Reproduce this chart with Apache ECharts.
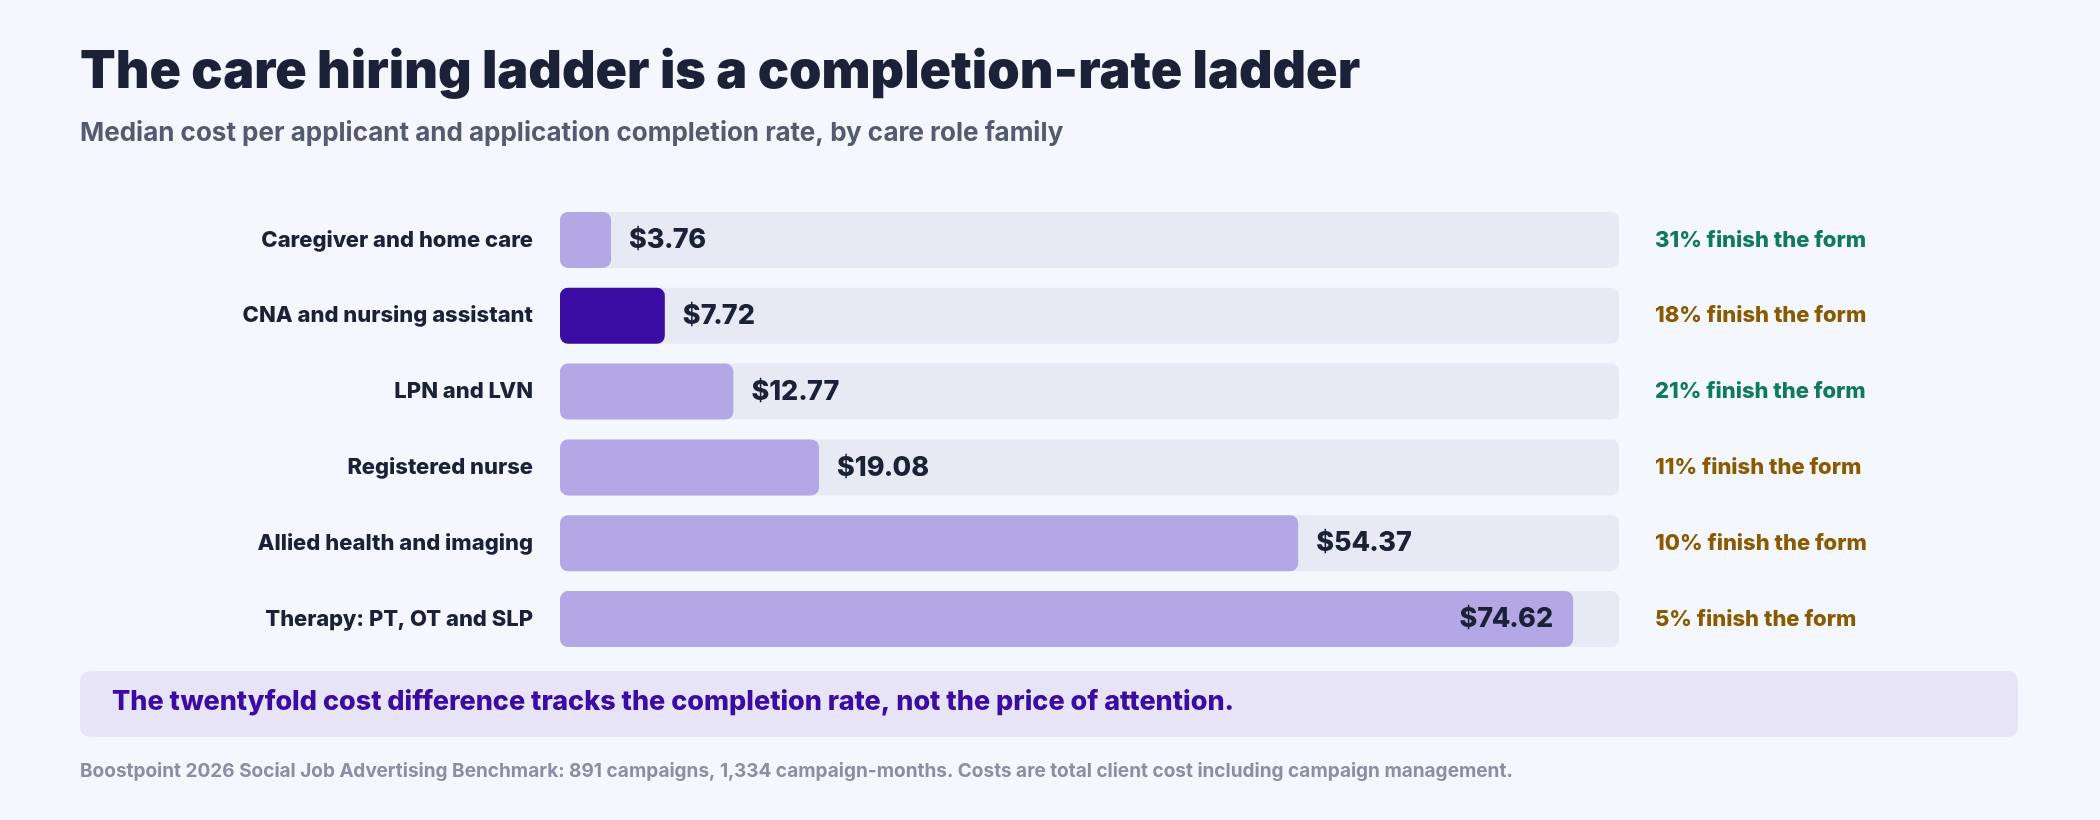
<!DOCTYPE html>
<html>
<head>
<meta charset="utf-8">
<script src="https://cdn.jsdelivr.net/npm/echarts@6/dist/echarts.min.js"></script>
<style>
  html, body { margin: 0; padding: 0; background: #f4f7fe; }
  #chart { width: 2100px; height: 820px; }
</style>
</head>
<body>
<div id="chart"></div>
<script>
// care role families, top to bottom
const roles = ['Caregiver and home care', 'CNA and nursing assistant', 'LPN and LVN',
  'Registered nurse', 'Allied health and imaging', 'Therapy: PT, OT and SLP'];
const costs = [3.76, 7.72, 12.77, 19.08, 54.37, 74.62];
const completion = [31, 18, 21, 11, 10, 5];
const goodRate = [true, false, true, false, false, false];
const highlight = 1;
const axisMax = 78;

const font = 'Inter, "Noto Sans", sans-serif';
const chart = echarts.init(document.getElementById('chart'));

chart.setOption({
  backgroundColor: '#f4f7fe',
  animation: false,
  graphic: [
    { type: 'text', left: 80, top: 46,
      style: { text: 'The care hiring ladder is a completion-rate ladder', font: '900 52px ' + font, fill: '#1b2238' } },
    { type: 'text', left: 80, top: 120,
      style: { text: 'Median cost per applicant and application completion rate, by care role family', font: '700 26px ' + font, fill: '#545a70' } },
    { type: 'rect', left: 80, top: 671, shape: { width: 1938, height: 66, r: 10 }, style: { fill: '#e6e4f6' } },
    { type: 'text', left: 112, top: 688,
      style: { text: 'The twentyfold cost difference tracks the completion rate, not the price of attention.', font: '800 27px ' + font, fill: '#3a0ca3' } },
    { type: 'text', left: 80, top: 762,
      style: { text: 'Boostpoint 2026 Social Job Advertising Benchmark: 891 campaigns, 1,334 campaign-months. Costs are total client cost including campaign management.', font: '700 19px ' + font, fill: '#8a8fa3' } }
  ],
  grid: { left: 560, right: 481, top: 202, bottom: 163 },
  xAxis: { type: 'value', min: 0, max: axisMax, show: false },
  yAxis: {
    type: 'category', data: roles, inverse: true,
    axisLine: { show: false }, axisTick: { show: false },
    axisLabel: { margin: 27, fontFamily: font, fontWeight: 800, fontSize: 22, color: '#1b2238' }
  },
  series: [
    {
      type: 'bar', barWidth: 56, silent: true,
      data: roles.map((r, i) => ({ value: axisMax, rate: completion[i], good: goodRate[i] })),
      itemStyle: { color: '#e7e9f5', borderRadius: 8 },
      label: {
        show: true, position: 'right', distance: 36,
        formatter: p => '{' + (p.data.good ? 'g' : 'b') + '|' + p.data.rate + '% finish the form}',
        rich: {
          g: { color: '#0f7b5c', fontFamily: font, fontWeight: 800, fontSize: 22 },
          b: { color: '#8a5a00', fontFamily: font, fontWeight: 800, fontSize: 22 }
        }
      }
    },
    {
      type: 'bar', barWidth: 56, barGap: '-100%',
      data: costs.map((v, i) => ({
        value: v,
        itemStyle: { color: i === highlight ? '#3a0ca3' : '#b3a7e6' },
        label: v > 60 ? { position: 'insideRight', distance: 20 } : {}
      })),
      itemStyle: { borderRadius: 8 },
      label: {
        show: true, position: 'right', distance: 18,
        formatter: p => '$' + p.value.toFixed(2),
        fontFamily: font, fontWeight: 800, fontSize: 27, color: '#1b2238'
      }
    }
  ]
});
</script>
</body>
</html>
